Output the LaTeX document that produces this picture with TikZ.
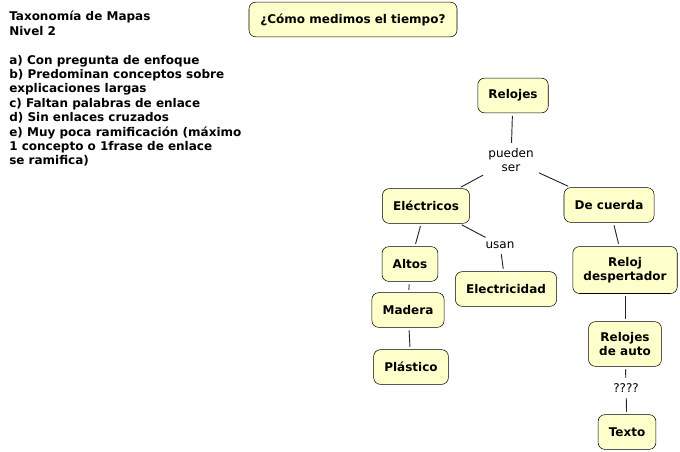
\documentclass[tikz,border=0pt]{standalone}
\usepackage{fontspec}
\setmainfont{DejaVu Sans}
\usetikzlibrary{positioning}
\definecolor{conceptfill}{HTML}{FFFFCC}
\tikzset{concept/.style={draw=black,fill=conceptfill,rounded corners=5pt,font=\bfseries\fontsize{9}{10.5}\selectfont,align=center,inner xsep=8pt,inner ysep=8pt,minimum height=26pt},
  linkword/.style={font=\fontsize{9}{10.5}\selectfont,align=center,inner sep=2pt},
  link/.style={draw=black!85,line width=0.7pt,shorten >=2pt,shorten <=2pt}}
\begin{document}
\begin{tikzpicture}[x=0.75pt,y=-0.75pt]
\useasboundingbox (0,0) rectangle (680,451);
% notas
\node (notes) [anchor=north west,align=left,inner sep=0pt,font=\bfseries\fontsize{9}{10.8}\selectfont] at (9,11)
  {Taxonom\'ia de Mapas\\Nivel 2\\[10.8pt]
   a) Con pregunta de enfoque\\
   b) Predominan conceptos sobre\\
   explicaciones largas\\
   c) Faltan palabras de enlace\\
   d) Sin enlaces cruzados\\
   e) Muy poca ramificaci\'on (m\'aximo\\
   1 concepto o 1frase de enlace\\
   se ramifica)};

\node (question) [concept,minimum width=156pt] at (353,19.5) {¿C\'omo medimos el tiempo?};

\node (relojes) [concept] at (513,95.5) {Relojes};
\node (pueden) [linkword] at (511,160) {pueden\\ser};
\node (electricos) [concept] at (426,206) {El\'ectricos};
\node (cuerda) [concept] at (609,205) {De cuerda};
\node (altos) [concept] at (410,264) {Altos};
\node (usan) [linkword] at (500,245) {usan};
\node (electricidad) [concept] at (506,289) {Electricidad};
\node (despertador) [concept] at (625,270) {Reloj\\despertador};
\node (madera) [concept] at (408,310) {Madera};
\node (auto) [concept] at (625,344) {Relojes\\de auto};
\node (signos) [linkword] at (626,388) {????};
\node (plastico) [concept] at (411,367) {Pl\'astico};
\node (texto) [concept] at (627,432) {Texto};

\path[link] (relojes) -- (pueden);
\path[link] (pueden) -- (electricos);
\path[link] (pueden) -- (cuerda);
\path[link] (electricos) -- (altos);
\path[link] (electricos) -- (usan);
\path[link] (usan) -- (electricidad);
\path[link] (cuerda) -- (despertador);
\path[link] (altos) -- (madera);
\path[link] (madera) -- (plastico);
\path[link] (despertador) -- (auto);
\path[link] (auto) -- (signos);
\path[link] (signos) -- (texto);
\end{tikzpicture}
\end{document}
